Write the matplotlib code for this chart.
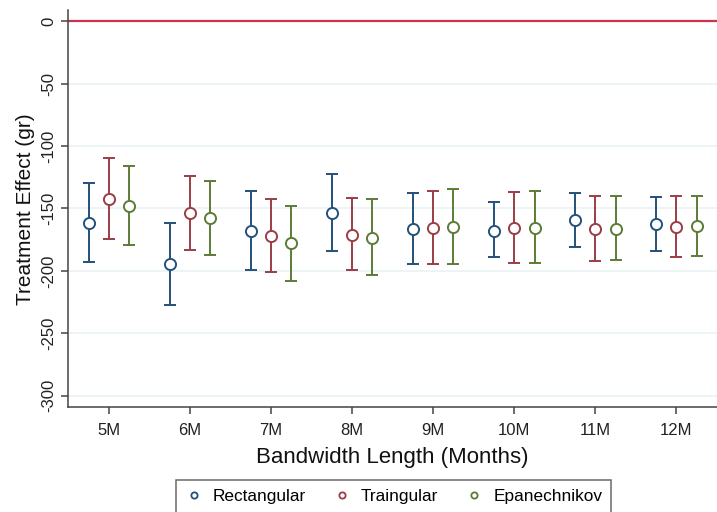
import numpy as np
import matplotlib.pyplot as plt

plt.rcParams['font.family'] = ['Liberation Sans', 'DejaVu Sans']

# bandwidths (months) and estimates
months = [5, 6, 7, 8, 9, 10, 11, 12]
labels = ['5M', '6M', '7M', '8M', '9M', '10M', '11M', '12M']

rect_est = [-161.3, -194.4, -168.0, -153.9, -166.7, -167.7, -159.2, -162.4]
rect_lo = [-192.5, -227.2, -199.7, -183.7, -194.4, -189.0, -180.5, -183.7]
rect_hi = [-129.9, -161.3, -136.0, -122.4, -137.3, -144.5, -137.9, -140.5]

tri_est = [-142.4, -153.9, -172.0, -171.2, -165.3, -165.9, -166.7, -164.5]
tri_lo = [-174.7, -183.2, -201.3, -199.7, -194.4, -193.9, -191.7, -188.5]
tri_hi = [-109.9, -123.7, -142.7, -141.3, -135.7, -136.5, -140.0, -140.0]

epa_est = [-148.0, -157.9, -177.9, -173.3, -165.0, -165.3, -166.7, -163.7]
epa_lo = [-179.2, -187.2, -208.0, -203.2, -194.4, -193.9, -191.2, -187.7]
epa_hi = [-115.7, -127.7, -147.7, -142.7, -134.4, -136.0, -140.0, -140.0]

series = [
    ('Rectangular', rect_est, rect_lo, rect_hi, '#24507a', -0.25),
    ('Traingular', tri_est, tri_lo, tri_hi, '#9a3d45', 0.0),
    ('Epanechnikov', epa_est, epa_lo, epa_hi, '#5b7c35', 0.25),
]

fig = plt.figure(figsize=(7.17, 5.12), dpi=100)
ax = fig.add_axes([0.0953, 0.2045, 0.9047, 0.7755])

ax.axhline(0, color='#d0304f', lw=1.6, zorder=1)

handles = []
for name, est, lo, hi, col, off in series:
    x = np.array(months) + off
    est = np.array(est)
    err = [est - np.array(lo), np.array(hi) - est]
    ax.errorbar(x, est, yerr=err, fmt='none', ecolor=col, elinewidth=1.4,
                capsize=4.5, capthick=1.4, zorder=2)
    ax.plot(x, est, 'o', mfc='white', mec=col, mew=1.4, ms=8, zorder=3)
    h, = ax.plot([], [], 'o', mfc='white', mec=col, mew=1.3, ms=4.5, ls='none')
    handles.append((h, name))

ax.set_xlim(4.5, 12.5)
ax.set_ylim(-309.3, 8.8)
ax.set_xticks(months)
ax.set_xticklabels(labels, fontsize=12, color='#222222')
ax.set_yticks([0, -50, -100, -150, -200, -250, -300])
ax.set_yticklabels(['0', '-50', '-100', '-150', '-200', '-250', '-300'],
                   rotation=90, va='center', fontsize=12, color='#222222')
for yv in [-50, -100, -150, -200, -250, -300]:
    ax.axhline(yv, color='#eaf2f3', lw=1.2, zorder=0)

for s in ['top', 'right']:
    ax.spines[s].set_visible(False)
ax.spines['left'].set_color('#444444')
ax.spines['bottom'].set_color('#444444')
ax.spines['left'].set_linewidth(1.1)
ax.spines['bottom'].set_linewidth(1.1)
ax.tick_params(axis='both', direction='out', length=5, width=1.1, color='#444444')
ax.tick_params(axis='x', pad=6)

ax.set_xlabel('Bandwidth Length (Months)', fontsize=16, color='#111111', labelpad=7)
ax.set_ylabel('Treatment Effect (gr)', fontsize=15, color='#111111', labelpad=5)

leg = fig.legend([h for h, n in handles], [n for h, n in handles],
                 loc='upper center', bbox_to_anchor=(0.549, 0.062), ncol=3,
                 fontsize=12.4, frameon=True, fancybox=False, handlelength=1,
                 handletextpad=0.6, columnspacing=1.6, borderpad=0.5,
                 borderaxespad=0)
leg.get_frame().set_edgecolor('#444444')
leg.get_frame().set_linewidth(1.1)

fig.savefig('out.png', dpi=100)
